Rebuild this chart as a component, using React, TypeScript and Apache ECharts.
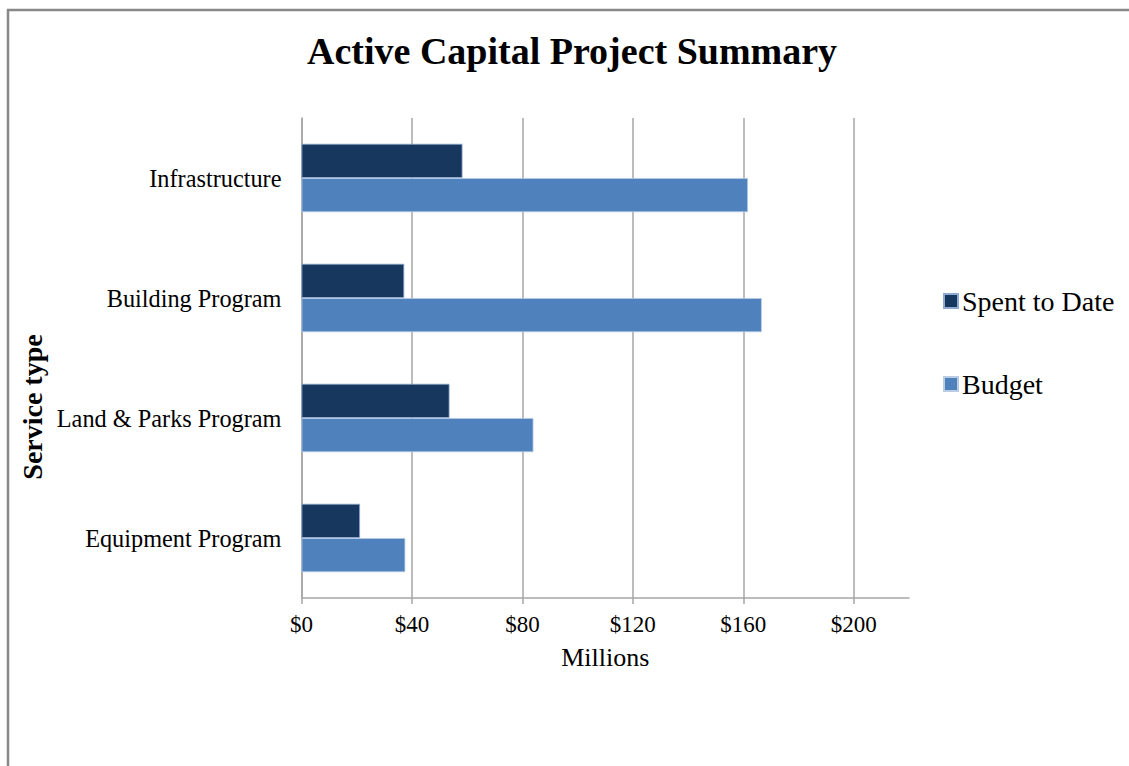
import React, { useEffect, useRef } from "react";
import * as echarts from "echarts";

const categories = ["Infrastructure", "Building Program", "Land & Parks Program", "Equipment Program"];
const spentToDate = [58.3, 37.2, 53.6, 21.2];
const budget = [161.7, 166.7, 84.0, 37.6];
const tickValues = [0, 40, 80, 120, 160, 200];

const SERIF = '"Liberation Serif", "DejaVu Serif", serif';

export default function App() {
  const ref = useRef<HTMLDivElement>(null);
  useEffect(() => {
    if (!ref.current) return;
    const chart = echarts.init(ref.current, undefined, { renderer: "svg" });
    chart.setOption({
      animation: false,
      backgroundColor: "#ffffff",
      title: {
        text: "Active Capital Project Summary",
        left: 302,
        top: 27,
        textStyle: { fontFamily: SERIF, fontSize: 38, fontWeight: "bold", color: "#000" },
      },
      graphic: [
        {
          type: "rect",
          shape: { x: 8, y: 10, width: 1200, height: 900 },
          style: { fill: "none", stroke: "#888888", lineWidth: 2.5 },
          silent: true,
        },
        {
          type: "text",
          x: 32,
          y: 407,
          rotation: Math.PI / 2,
          style: {
            text: "Service type",
            fontFamily: SERIF,
            fontSize: 28,
            fontWeight: "bold",
            fill: "#000",
            align: "center",
            verticalAlign: "middle",
          },
          silent: true,
        },
      ],
      legend: {
        orient: "vertical",
        left: 938,
        top: 282,
        itemGap: 55,
        itemWidth: 14,
        itemHeight: 14,
        icon: "rect",
        textStyle: { fontFamily: SERIF, fontSize: 28, color: "#000", padding: [0, 0, 0, -1] },
        data: ["Spent to Date", "Budget"],
      },
      grid: { left: 301.5, top: 118, width: 607.5, height: 480, containLabel: false },
      xAxis: {
        type: "value",
        min: 0,
        max: 220,
        interval: 40,
        name: "Millions",
        nameLocation: "middle",
        nameGap: 46,
        nameTextStyle: { fontFamily: SERIF, fontSize: 26, color: "#000", verticalAlign: "top" },
        axisLine: { show: true, lineStyle: { color: "#a6a6a6", width: 1.5 } },
        axisTick: { show: true, length: 6, lineStyle: { color: "#a6a6a6", width: 1.5 }, customValues: tickValues },
        axisLabel: {
          fontFamily: SERIF,
          fontSize: 23,
          color: "#000",
          margin: 15,
          customValues: tickValues,
          formatter: (v: number) => "$" + v,
        },
        splitLine: { show: true, lineStyle: { color: "#a6a6a6", width: 1.5 } },
      },
      yAxis: {
        type: "category",
        inverse: true,
        data: categories,
        axisLine: { show: true, lineStyle: { color: "#a6a6a6", width: 1.5 } },
        axisTick: { show: false },
        axisLabel: { fontFamily: SERIF, fontSize: 24.3, color: "#000", margin: 20 },
        splitLine: { show: false },
      },
      series: [
        {
          name: "Spent to Date",
          type: "bar",
          data: spentToDate,
          barGap: "0%",
          barCategoryGap: "43%",
          itemStyle: { color: "#17375e", borderColor: "#8eaad0", borderWidth: 0.8 },
        },
        {
          name: "Budget",
          type: "bar",
          data: budget,
          barGap: "0%",
          barCategoryGap: "43%",
          itemStyle: { color: "#4f81bd", borderColor: "#b9cde5", borderWidth: 0.8 },
        },
      ],
    });
    return () => chart.dispose();
  }, []);
  return (
    <div
      ref={ref}
      style={{ position: "absolute", left: 0, top: 0, width: 1129, height: 766 }}
    />
  );
}
